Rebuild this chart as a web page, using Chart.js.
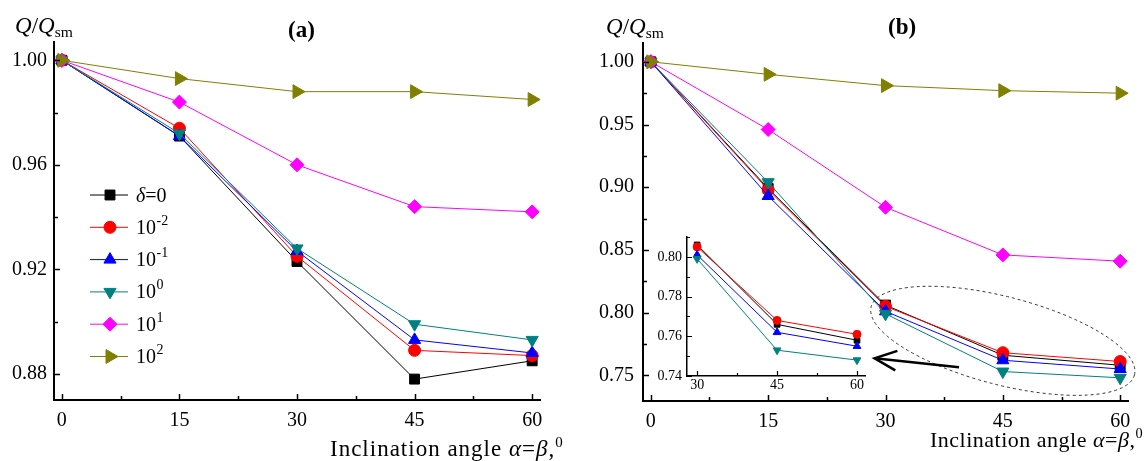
<!DOCTYPE html>
<html>
<head>
<meta charset="utf-8">
<script src="https://cdn.jsdelivr.net/npm/chart.js@4.4.0/dist/chart.umd.min.js"></script>
<style>
  body { margin: 0; background: #fff; width: 1148px; height: 461px; overflow: hidden; position: relative; font-family: "Liberation Serif", "Times New Roman", serif; }
  canvas { position: absolute; }
  .lbl { position: absolute; white-space: nowrap; color: #000; line-height: 1; }
  .lbl sub { font-size: 0.68em; vertical-align: -0.25em; }
  .lbl sup { font-size: 0.65em; vertical-align: 0.6em; }
</style>
</head>
<body>
<canvas id="chartA" width="574" height="461" style="left:0;top:0"></canvas>
<canvas id="chartB" width="574" height="461" style="left:574px;top:0"></canvas>
<canvas id="inset" width="240" height="190" style="left:640px;top:220px"></canvas>

<div class="lbl" style="left:15px;top:14px;font-size:23px"><i>Q</i>/<i>Q</i><sub>sm</sub></div>
<div class="lbl" style="left:288px;top:18px;font-size:23px;font-weight:bold">(a)</div>
<div class="lbl" style="left:330px;top:435px;font-size:23px;letter-spacing:1px">Inclination angle <i>α</i>=<i>β</i>,<sup>0</sup></div>

<div class="lbl" style="left:606px;top:15px;font-size:23px"><i>Q</i>/<i>Q</i><sub>sm</sub></div>
<div class="lbl" style="left:888px;top:15px;font-size:23px;font-weight:bold">(b)</div>
<div class="lbl" style="left:930px;top:426px;font-size:22px;letter-spacing:0.5px">Inclination angle <i>α</i>=<i>β</i>,<sup>0</sup></div>

<script>
const FONT = '"Liberation Serif", "Times New Roman", Times, serif';
Chart.defaults.font.family = FONT;
Chart.defaults.color = '#000';

// x values (inclination angle, degrees)
const angles = [0, 15, 30, 45, 60];
const insetAngles = [30, 45, 60];

// legend: base text and exponent
const legendBase = ['δ=0', '10', '10', '10', '10', '10'];
const legendExp  = ['', '-2', '-1', '0', '1', '2'];

// panel (a) Q/Qsm
const a_delta0   = [1.000, 0.971, 0.923, 0.878, 0.885];
const a_delta001 = [1.000, 0.974, 0.925, 0.889, 0.887];
const a_delta01  = [1.000, 0.971, 0.927, 0.893, 0.888];
const a_delta1   = [1.000, 0.972, 0.928, 0.899, 0.893];
const a_delta10  = [1.000, 0.984, 0.960, 0.944, 0.942];
const a_delta100 = [1.000, 0.993, 0.988, 0.988, 0.985];

// panel (b) Q/Qsm
const b_delta0   = [1.000, 0.899, 0.806, 0.766, 0.758];
const b_delta001 = [1.000, 0.898, 0.805, 0.768, 0.761];
const b_delta01  = [1.000, 0.893, 0.801, 0.762, 0.755];
const b_delta1   = [1.000, 0.904, 0.799, 0.753, 0.748];
const b_delta10  = [1.000, 0.946, 0.884, 0.846, 0.841];
const b_delta100 = [1.000, 0.990, 0.981, 0.977, 0.975];

// tick labels
const xTicksMain  = [0, 15, 30, 45, 60];
const yTicksA     = [0.88, 0.92, 0.96, 1.00];
const yTicksB     = [0.75, 0.80, 0.85, 0.90, 0.95, 1.00];
const xTicksInset = [30, 45, 60];
const yTicksInset = [0.74, 0.76, 0.78, 0.80];

const colors    = ['#000000', '#ff0000', '#0000ff', '#008080', '#ff00ff', '#808000'];
const markers   = ['rect', 'circle', 'triangle', 'triangle', 'rectRot', 'triangle'];
const rotations = [0, 0, 0, 180, 0, 90];
const radii     = [7, 6, 7, 7, 7, 8];
const radiiSmall = [4, 4, 4.5, 4.5];

function minors(major, lo, hi) {
  const step = major[1] - major[0];
  const out = [];
  for (let v = major[0] - step / 2; v <= hi + 1e-9; v += step) {
    if (v >= lo - 1e-9) out.push(+v.toFixed(4));
  }
  return out;
}

function buildSets(xs, list, rad) {
  return list.map((vals, i) => ({
    label: legendBase[i] + legendExp[i],
    data: xs.map((x, j) => ({ x: x, y: vals[j] })),
    borderColor: colors[i],
    backgroundColor: colors[i],
    pointStyle: markers[i],
    pointRotation: rotations[i],
    pointRadius: rad[i],
    pointHoverRadius: rad[i],
    pointBorderWidth: 1,
    borderWidth: 1,
    tension: 0,
    clip: false,
    order: list.length - i
  }));
}

// inward major/minor ticks
const inwardTicks = {
  id: 'inwardTicks',
  afterDraw(chart, args, o) {
    const { ctx, chartArea: ca, scales: { x, y } } = chart;
    ctx.save();
    ctx.strokeStyle = '#000';
    ctx.lineWidth = o.lw;
    ctx.beginPath();
    o.xMajor.forEach(v => { const p = Math.round(x.getPixelForValue(v)) + 0.5; ctx.moveTo(p, ca.bottom); ctx.lineTo(p, ca.bottom - o.major); });
    minors(o.xMajor, x.min, x.max).forEach(v => { const p = Math.round(x.getPixelForValue(v)) + 0.5; ctx.moveTo(p, ca.bottom); ctx.lineTo(p, ca.bottom - o.minor); });
    o.yMajor.forEach(v => { const p = Math.round(y.getPixelForValue(v)) + 0.5; ctx.moveTo(ca.left, p); ctx.lineTo(ca.left + o.major, p); });
    minors(o.yMajor, y.min, y.max).forEach(v => { const p = Math.round(y.getPixelForValue(v)) + 0.5; ctx.moveTo(ca.left, p); ctx.lineTo(ca.left + o.minor, p); });
    ctx.stroke();
    ctx.restore();
  }
};

// legend drawn inside panel (a)
const seriesLegend = {
  id: 'seriesLegend',
  afterDatasetsDraw(chart, args, o) {
    if (!o.show) return;
    const { ctx, chartArea: ca } = chart;
    const x0 = ca.left + o.dx, y0 = ca.top + o.dy;
    chart.data.datasets.forEach((ds, i) => {
      const y = y0 + i * o.gap;
      ctx.save();
      ctx.strokeStyle = ds.borderColor;
      ctx.fillStyle = ds.backgroundColor;
      ctx.lineWidth = 1;
      ctx.beginPath(); ctx.moveTo(x0, y); ctx.lineTo(x0 + 38, y); ctx.stroke();
      Chart.helpers.drawPoint(ctx, { pointStyle: ds.pointStyle, rotation: ds.pointRotation, radius: ds.pointRadius, borderWidth: 1 }, x0 + 20, y);
      ctx.fillStyle = '#000';
      ctx.textBaseline = 'alphabetic';
      const base = y + 6.5;
      let tx = x0 + 46;
      let txt = legendBase[i];
      if (txt.startsWith('δ')) {
        ctx.font = 'italic 20px ' + FONT;
        ctx.fillText('δ', tx, base);
        tx += ctx.measureText('δ').width;
        txt = txt.slice(1);
      }
      ctx.font = '20px ' + FONT;
      ctx.fillText(txt, tx, base);
      tx += ctx.measureText(txt).width;
      if (legendExp[i]) {
        ctx.font = '14px ' + FONT;
        ctx.fillText(legendExp[i], tx + 0.5, base - 9);
      }
      ctx.restore();
    });
  }
};

// dashed ellipse + arrow in panel (b)
const zoomNote = {
  id: 'zoomNote',
  afterDatasetsDraw(chart, args, o) {
    if (!o.show) return;
    const { ctx, scales: { x, y } } = chart;
    ctx.save();
    ctx.strokeStyle = '#333';
    ctx.lineWidth = 1;
    ctx.setLineDash([3, 3]);
    ctx.beginPath();
    ctx.ellipse(x.getPixelForValue(o.cx), y.getPixelForValue(o.cy), o.rx, o.ry, o.rot * Math.PI / 180, 0, 2 * Math.PI);
    ctx.stroke();
    ctx.setLineDash([]);
    const tx = x.getPixelForValue(o.tipX), ty = y.getPixelForValue(o.tipY);
    const fx = x.getPixelForValue(o.tailX), fy = y.getPixelForValue(o.tailY);
    ctx.strokeStyle = '#000';
    ctx.lineWidth = 2.5;
    ctx.beginPath(); ctx.moveTo(fx, fy); ctx.lineTo(tx, ty); ctx.stroke();
    const ang = Math.atan2(fy - ty, fx - tx);
    ctx.beginPath();
    ctx.moveTo(tx + 24 * Math.cos(ang - 0.42), ty + 24 * Math.sin(ang - 0.42));
    ctx.lineTo(tx, ty);
    ctx.lineTo(tx + 24 * Math.cos(ang + 0.42), ty + 24 * Math.sin(ang + 0.42));
    ctx.stroke();
    ctx.restore();
  }
};

function makeChart(id, xs, list, rad, cfg) {
  return new Chart(document.getElementById(id), {
    type: 'line',
    data: { datasets: buildSets(xs, list, rad) },
    plugins: [inwardTicks, seriesLegend, zoomNote],
    options: {
      responsive: false,
      animation: false,
      events: [],
      layout: { padding: cfg.pad },
      scales: {
        x: {
          type: 'linear', min: cfg.xr[0], max: cfg.xr[1],
          afterFit: s => { s.height = cfg.xh; },
          afterBuildTicks: s => { s.ticks = cfg.xt.map(v => ({ value: v })); },
          grid: { display: false, drawTicks: false },
          border: { display: true, color: '#000', width: cfg.bw },
          ticks: { autoSkip: false, maxRotation: 0, padding: cfg.xpad, font: { family: FONT, size: cfg.fs }, color: '#000' }
        },
        y: {
          type: 'linear', min: cfg.yr[0], max: cfg.yr[1],
          afterFit: s => { s.width = cfg.yw; },
          afterBuildTicks: s => { s.ticks = cfg.yt.map(v => ({ value: v })); },
          grid: { display: false, drawTicks: false },
          border: { display: true, color: '#000', width: cfg.bw },
          ticks: { padding: cfg.ypad, font: { family: FONT, size: cfg.fs }, color: '#000', callback: v => v.toFixed(2) }
        }
      },
      plugins: {
        legend: { display: false },
        tooltip: { enabled: false },
        inwardTicks: { xMajor: cfg.xt, yMajor: cfg.yt, major: cfg.tMaj, minor: cfg.tMin, lw: cfg.tlw },
        seriesLegend: { show: !!cfg.legend, dx: 36, dy: 153, gap: 32.3 },
        zoomNote: Object.assign({ show: false }, cfg.note || {})
      }
    }
  });
}

function drawAll() {
  makeChart('chartA', angles,
    [a_delta0, a_delta001, a_delta01, a_delta1, a_delta10, a_delta100], radii, {
      pad: { left: 0, top: 42, right: 34, bottom: 0 }, yw: 54, xh: 61,
      xr: [-1, 61], yr: [0.870, 1.007], xt: xTicksMain, yt: yTicksA,
      fs: 20, xpad: 9, ypad: 7, bw: 2, tMaj: 6, tMin: 4, tlw: 1.5, legend: true
    });

  makeChart('chartB', angles,
    [b_delta0, b_delta001, b_delta01, b_delta1, b_delta10, b_delta100], radii, {
      pad: { left: 0, top: 43, right: 20, bottom: 0 }, yw: 69, xh: 60,
      xr: [-1, 61], yr: [0.7295, 1.015], xt: xTicksMain, yt: yTicksB,
      fs: 20, xpad: 9, ypad: 9, bw: 2, tMaj: 6, tMin: 4, tlw: 1.5,
      note: { show: true, cx: 45.0, cy: 0.7775, rx: 136, ry: 44, rot: 14.5,
              tipX: 28.6, tipY: 0.7636, tailX: 39.4, tailY: 0.7564 }
    });

  makeChart('inset', insetAngles,
    [b_delta0.slice(2), b_delta001.slice(2), b_delta01.slice(2), b_delta1.slice(2)], radiiSmall, {
      pad: { left: 0, top: 17, right: 15, bottom: 0 }, yw: 47, xh: 34,
      xr: [28.1, 61.5], yr: [0.74, 0.81], xt: xTicksInset, yt: yTicksInset,
      fs: 14, xpad: 1, ypad: 5, bw: 1.5, tMaj: 5, tMin: 3, tlw: 1.2
    });
}

// make sure the serif face is ready before canvas text is drawn
Promise.all([
  document.fonts.load('20px "Liberation Serif"'),
  document.fonts.load('italic 20px "Liberation Serif"')
]).then(drawAll, drawAll);
</script>
</body>
</html>
